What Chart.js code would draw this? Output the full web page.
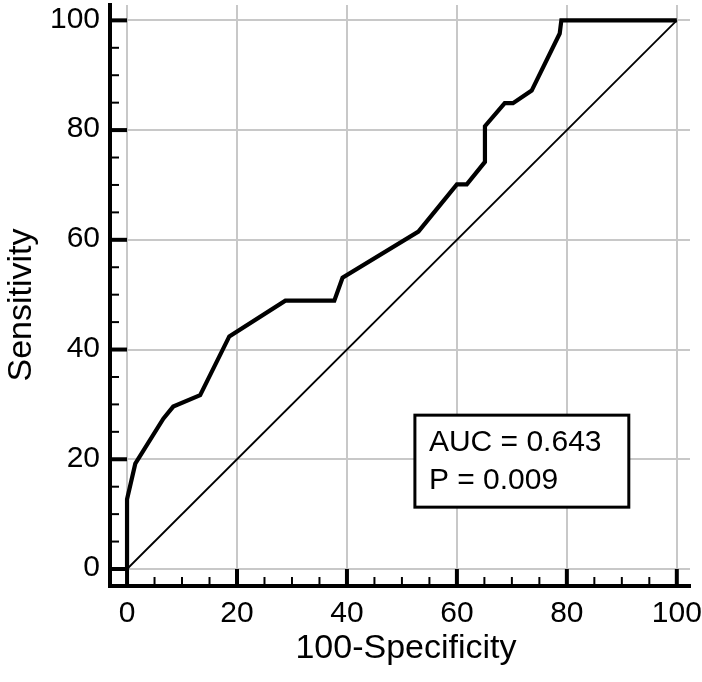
<!DOCTYPE html>
<html>
<head>
<meta charset="utf-8">
<script src="https://cdn.jsdelivr.net/npm/chart.js@4/dist/chart.umd.min.js"></script>
<style>
  html, body { margin: 0; padding: 0; background: #fff; }
  #wrap { width: 702px; height: 682px; position: relative; }
</style>
</head>
<body>
<div id="wrap"><canvas id="c"></canvas></div>
<script>
// ---- data ----
const fpr = [0, 0, 1.5, 6.6, 8.4, 13.3, 18.6, 28.8, 37.7, 39.2, 53, 60, 61.8, 65.1, 65.1, 68.7, 70.2, 73.6, 78.7, 79, 100];
const tpr = [0, 12.7, 19.2, 27.4, 29.6, 31.7, 42.4, 48.9, 48.9, 53.1, 61.5, 70.1, 70.1, 74.2, 80.7, 84.9, 84.9, 87.2, 97.6, 100, 100];
const refX = [0, 100];
const refY = [0, 100];
const majorTicks = [0, 20, 40, 60, 80, 100];
const tickLabels = ['0', '20', '40', '60', '80', '100'];
const minorTicks = [5, 10, 15, 25, 30, 35, 45, 50, 55, 65, 70, 75, 85, 90, 95];
const xTitle = '100-Specificity';
const yTitle = 'Sensitivity';
const statLines = ['AUC = 0.643', 'P = 0.009'];

const FONT = '"Liberation Sans", Arial, Helvetica, sans-serif';

const deco = {
  id: 'deco',
  beforeDatasetsDraw(chart) {
    const { ctx, scales: { x, y }, chartArea: a } = chart;
    const x0 = x.getPixelForValue(0);
    const y0 = y.getPixelForValue(0);
    ctx.save();
    ctx.strokeStyle = '#000';
    ctx.lineCap = 'butt';
    // major ticks
    ctx.lineWidth = 4;
    majorTicks.forEach(v => {
      const px = x.getPixelForValue(v);
      ctx.beginPath(); ctx.moveTo(px, a.bottom); ctx.lineTo(px, y0); ctx.stroke();
      const py = y.getPixelForValue(v);
      ctx.beginPath(); ctx.moveTo(a.left, py); ctx.lineTo(x0, py); ctx.stroke();
    });
    // minor ticks
    ctx.lineWidth = 2;
    minorTicks.forEach(v => {
      const px = x.getPixelForValue(v);
      ctx.beginPath(); ctx.moveTo(px, a.bottom); ctx.lineTo(px, a.bottom - 9); ctx.stroke();
      const py = y.getPixelForValue(v);
      ctx.beginPath(); ctx.moveTo(a.left, py); ctx.lineTo(a.left + 9, py); ctx.stroke();
    });
    ctx.restore();
  },
  afterDraw(chart) {
    const { ctx, scales: { x, y }, chartArea: a } = chart;
    ctx.save();
    ctx.fillStyle = '#000';
    // tick labels
    ctx.font = '30px ' + FONT;
    ctx.textBaseline = 'middle';
    ctx.textAlign = 'right';
    majorTicks.forEach((v, i) => {
      ctx.fillText(tickLabels[i], a.left - 10, y.getPixelForValue(v) - 1);
    });
    ctx.textAlign = 'center';
    majorTicks.forEach((v, i) => {
      ctx.fillText(tickLabels[i], x.getPixelForValue(v), a.bottom + 28);
    });
    // axis titles
    ctx.font = '34px ' + FONT;
    ctx.textAlign = 'center';
    ctx.textBaseline = 'alphabetic';
    ctx.fillText(xTitle, 406, 658);
    ctx.save();
    ctx.translate(31, 305);
    ctx.rotate(-Math.PI / 2);
    ctx.fillText(yTitle, 0, 0);
    ctx.restore();
    // stats box
    const bx1 = x.getPixelForValue(52.36), bx2 = x.getPixelForValue(91.27);
    const by1 = y.getPixelForValue(28.04), by2 = y.getPixelForValue(11.27);
    ctx.fillStyle = '#fff';
    ctx.fillRect(bx1, by1, bx2 - bx1, by2 - by1);
    ctx.strokeStyle = '#000';
    ctx.lineWidth = 3;
    ctx.strokeRect(bx1, by1, bx2 - bx1, by2 - by1);
    ctx.fillStyle = '#000';
    ctx.font = '30px ' + FONT;
    ctx.textAlign = 'left';
    ctx.fillText(statLines[0], bx1 + 14, by1 + 36);
    ctx.fillText(statLines[1], bx1 + 14, by1 + 74);
    ctx.restore();
  }
};

const setTicks = scale => { scale.ticks = majorTicks.map(v => ({ value: v })); };

new Chart(document.getElementById('c'), {
  type: 'scatter',
  data: {
    datasets: [
      {
        data: fpr.map((v, i) => ({ x: v, y: tpr[i] })),
        showLine: true,
        borderColor: '#000',
        borderWidth: 4.2,
        pointRadius: 0,
        tension: 0,
        borderJoinStyle: 'miter'
      },
      {
        data: refX.map((v, i) => ({ x: v, y: refY[i] })),
        showLine: true,
        borderColor: '#000',
        borderWidth: 1.8,
        pointRadius: 0
      }
    ]
  },
  options: {
    responsive: true,
    maintainAspectRatio: false,
    animation: false,
    layout: { padding: { top: 5, right: 12, left: 0, bottom: 0 } },
    plugins: { legend: { display: false }, tooltip: { enabled: false } },
    scales: {
      x: {
        type: 'linear',
        min: -3.1,
        max: 102.4,
        afterBuildTicks: setTicks,
        afterFit: s => { s.height = 96; },
        grid: { color: '#c8c8c8', lineWidth: 2, drawTicks: false },
        border: { display: true, color: '#000', width: 4 },
        ticks: { display: false }
      },
      y: {
        type: 'linear',
        min: -3.1,
        max: 102.8,
        afterBuildTicks: setTicks,
        afterFit: s => { s.width = 110; },
        grid: { color: '#c8c8c8', lineWidth: 2, drawTicks: false },
        border: { display: true, color: '#000', width: 4 },
        ticks: { display: false }
      }
    }
  },
  plugins: [deco]
});
</script>
</body>
</html>
